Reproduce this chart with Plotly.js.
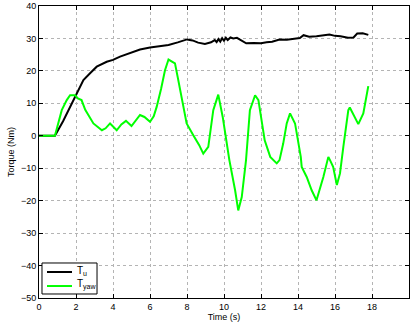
<!DOCTYPE html>
<html><head><meta charset="utf-8">
<script src="https://cdn.plot.ly/plotly-3.0.1.min.js"></script>
<style>html,body{margin:0;padding:0;background:#fff}#c{width:410px;height:322px}</style>
</head><body><div id="c"></div>
<script>
var tU = [0, 0.86, 1.3, 1.77, 2.1, 2.4, 2.8, 3.12, 3.66, 4.0, 4.38, 4.8, 5.28, 5.46, 6.0, 6.5, 7.0, 7.5, 8.0, 8.3, 8.6, 8.97, 9.3, 9.5, 9.6, 9.7, 9.8, 9.9, 10.0, 10.1, 10.2, 10.35, 10.5, 10.7, 10.9, 11.2, 11.6, 12.0, 12.3, 12.6, 13.0, 13.4, 13.9, 14.1, 14.3, 14.6, 15.0, 15.3, 15.7, 16.0, 16.3, 16.7, 17.0, 17.2, 17.5, 17.8];
var TU = [0, 0, 4.5, 10, 13.5, 17.2, 19.5, 21.3, 22.8, 23.4, 24.4, 25.3, 26.4, 26.6, 27.2, 27.6, 28.0, 28.8, 29.7, 29.4, 28.7, 28.3, 28.8, 29.5, 28.9, 29.8, 29.0, 30.1, 29.3, 30.2, 29.5, 30.3, 30.0, 30.2, 29.6, 28.5, 28.6, 28.5, 28.8, 29.0, 29.7, 29.6, 30.0, 30.1, 31.0, 30.5, 30.7, 30.9, 31.2, 30.8, 30.7, 30.2, 30.3, 31.5, 31.6, 31.1];
var tYaw = [0, 0.86, 1.23, 1.5, 1.68, 1.95, 2.1, 2.3, 2.5, 2.8, 2.94, 3.4, 3.6, 3.84, 4.0, 4.2, 4.45, 4.7, 5.0, 5.2, 5.46, 5.7, 6.0, 6.2, 6.36, 6.6, 6.81, 7.0, 7.35, 7.5, 7.7, 7.98, 8.34, 8.66, 8.88, 9.15, 9.42, 9.69, 9.93, 10.23, 10.29, 10.6, 10.77, 10.96, 11.19, 11.4, 11.68, 11.86, 12.2, 12.5, 12.85, 13.0, 13.2, 13.39, 13.57, 13.84, 14.15, 14.2, 14.47, 14.74, 15.0, 15.37, 15.64, 15.73, 15.9, 16.1, 16.27, 16.45, 16.72, 16.8, 17.08, 17.26, 17.53, 17.8];
var TYaw = [0, 0, 7.9, 11, 12.5, 12.5, 11.5, 11, 8, 5, 3.8, 1.7, 2.3, 3.8, 3.0, 1.7, 3.5, 4.6, 3.0, 4.5, 6.4, 5.8, 4.3, 6.0, 8.9, 14.5, 20.2, 23.5, 22.3, 18, 12, 3.8, 0.2, -2.9, -5.5, -3.4, 7.9, 12.7, 5.8, -5.5, -7.5, -16.8, -23, -18.9, -7.5, 7.9, 12.5, 11, -1.4, -6.5, -8.5, -7.5, -2.4, 3.8, 6.9, 3.8, -6.5, -9.6, -12.7, -16.8, -19.9, -12.7, -6.5, -7.5, -9.6, -15.2, -11.6, -3.4, 7.9, 8.7, 5.8, 3.6, 6.9, 15.3];
var xTicks = [0,2,4,6,8,10,12,14,16,18,20];
var yTicks = [-50,-40,-30,-20,-10,0,10,20,30,40];
var seriesNames = ['T<sub>u</sub>', 'T<sub>yaw</sub>'];
var seriesColors = ['#000000', '#00ff00'];

var traces = [
  {x: tU, y: TU, mode: 'lines', name: seriesNames[0], line: {color: seriesColors[0], width: 2}},
  {x: tYaw, y: TYaw, mode: 'lines', name: seriesNames[1], line: {color: seriesColors[1], width: 2}}
];
var ax = {
  showline: true, linecolor: '#000', linewidth: 1, mirror: 'ticks',
  ticks: 'inside', ticklen: 4, tickcolor: '#000',
  showgrid: true, gridcolor: '#b4b4b4', griddash: 'dot', gridwidth: 1,
  zeroline: false, tickfont: {size: 9, color: '#000', family: 'Liberation Sans, Arial, sans-serif'}
};
// compact MATLAB-style legend box (paper coordinates)
var legY = [0.089, 0.041];
var shapes = [{type: 'rect', xref: 'paper', yref: 'paper', x0: 0.0081, x1: 0.1568, y0: 0.0137, y1: 0.1199,
  line: {color: '#000', width: 1}, fillcolor: '#fff', layer: 'above'}];
var annotations = [];
for (var i = 0; i < 2; i++) {
  shapes.push({type: 'line', xref: 'paper', yref: 'paper', x0: 0.0216, x1: 0.0892, y0: legY[i], y1: legY[i],
    line: {color: seriesColors[i], width: 2}, layer: 'above'});
  annotations.push({xref: 'paper', yref: 'paper', x: 0.0973, y: legY[i] + 0.004, xanchor: 'left', yanchor: 'middle',
    text: seriesNames[i], showarrow: false, font: {size: 10, color: '#000'}});
}
var layout = {
  width: 410, height: 322,
  margin: {l: 39, r: 1, t: 6, b: 24},
  paper_bgcolor: '#fff', plot_bgcolor: '#fff',
  font: {family: 'Liberation Sans, Arial, sans-serif', size: 9, color: '#000'},
  showlegend: false,
  shapes: shapes, annotations: annotations,
  xaxis: Object.assign({}, ax, {range: [0, 20], tickvals: xTicks, ticktext: xTicks.map(String),
    title: {text: 'Time (s)', font: {size: 9}, standoff: 0}}),
  yaxis: Object.assign({}, ax, {range: [-50, 40], tickvals: yTicks,
    title: {text: 'Torque (Nm)', font: {size: 9}, standoff: 4}})
};
Plotly.newPlot('c', traces, layout, {displayModeBar: false, staticPlot: true});
</script></body></html>
